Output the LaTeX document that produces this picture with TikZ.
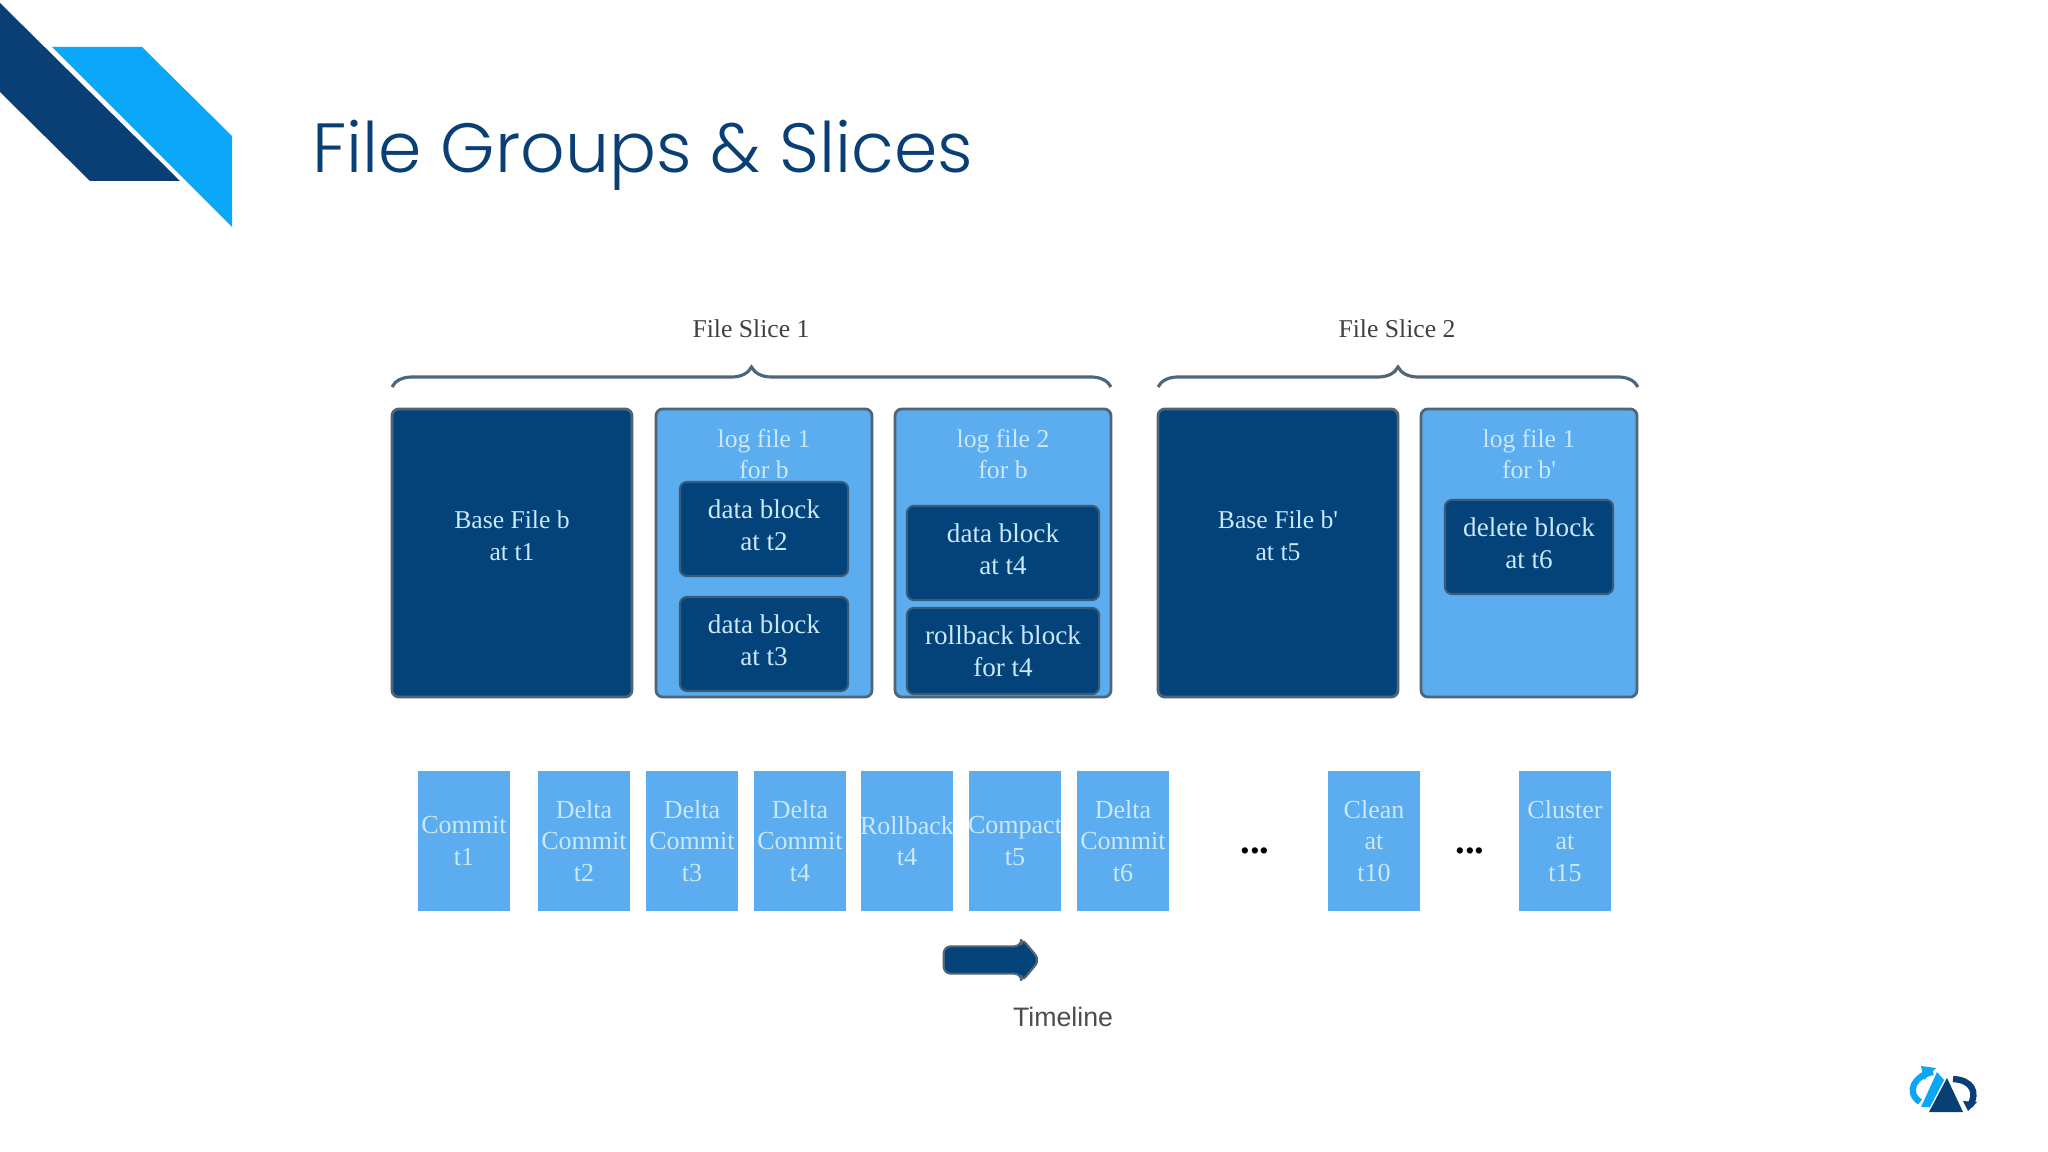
\documentclass[tikz,border=0pt]{standalone}
\usepackage{fontspec}
\setmainfont{Liberation Serif}
\newfontfamily\titlefont{Poppins Light}
\newfontfamily\labelfont{Liberation Sans}
\usetikzlibrary{shapes.arrows,decorations.pathreplacing}
\definecolor{navy}{HTML}{0A3F75}
\definecolor{sky}{HTML}{0CA6F8}
\definecolor{boxdark}{HTML}{03437A}
\definecolor{boxlight}{HTML}{5BADF0}
\definecolor{boxtext}{HTML}{C9E8FA}
\definecolor{boxline}{HTML}{4F6578}

\begin{document}
\begin{tikzpicture}[x=0.01cm, y=-0.01cm]
			\tikzstyle{every node}=[inner sep=1pt, align=center, font=\fontsize{7.3}{8.7}\selectfont]
			\tikzstyle{file}=[draw=boxline, line width=0.8pt, rounded corners=2pt, minimum height=2.88cm]
			\tikzstyle{basefile}=[file, fill=boxdark, minimum width=2.40cm]
			\tikzstyle{logfile}=[file, fill=boxlight, minimum width=2.16cm]
			\tikzstyle{filetext}=[text=boxtext]
			\tikzstyle{block}=[draw=boxline!70!boxdark, line width=0.6pt, fill=boxdark, rounded corners=2pt, text=boxtext, minimum height=0.94cm, text depth=0.08cm, font=\fontsize{7.7}{8.7}\selectfont]
			\tikzstyle{instant}=[fill=boxlight, text=boxtext, inner xsep=0pt, minimum width=0.92cm, minimum height=1.39cm, font=\fontsize{7.4}{8.7}\selectfont]
			\tikzstyle{slicebrace}=[draw=boxline, line width=0.9pt, decorate, decoration={brace, amplitude=0.2cm}]
			\tikzstyle{slicetext}=[text=black!75]
			\useasboundingbox (0, 0) rectangle (2048, 1152);
			% corner
			\fill [navy] (0, 3) -- (180, 181) -- (90, 181) -- (0, 92) -- cycle;
			\fill [sky] (52, 47) -- (142, 47) -- (232, 136) -- (232, 227) -- cycle;
			\node [anchor=west, text=navy, font=\titlefont\fontsize{19.8}{22}\selectfont] (title) at (308, 155) {File Groups \& Slices};
			% slices
			\coordinate (s1l) at (392, 387);
			\coordinate (s1r) at (1111, 387);
			\coordinate (s2l) at (1158, 387);
			\coordinate (s2r) at (1638, 387);
			\draw [slicebrace] (s1l) -- (s1r);
			\draw [slicebrace] (s2l) -- (s2r);
			\node [slicetext] (slice1) at (751, 329) {File Slice 1};
			\node [slicetext] (slice2) at (1397, 329) {File Slice 2};
			% files
			\node [basefile] (base1) at (512, 553) {};
			\node [logfile] (log1) at (764, 553) {};
			\node [logfile] (log2) at (1003, 553) {};
			\node [basefile] (base2) at (1278, 553) {};
			\node [logfile] (log3) at (1529, 553) {};
			\node [filetext] (base1text) at (512, 536) {Base File b\\[0.3pt]at t1};
			\node [filetext] (base2text) at (1278, 536) {Base File b\textquotesingle\\[0.3pt]at t5};
			\node [filetext] (log1text) at (764, 454) {log file 1\\[0.3pt]for b};
			\node [filetext] (log2text) at (1003, 454) {log file 2\\[0.3pt]for b};
			\node [filetext] (log3text) at (1529, 454) {log file 1\\[0.3pt]for b\textquotesingle};
			\node [block, minimum width=1.68cm] (t2) at (764, 529) {data block\\[0.3pt]at t2};
			\node [block, minimum width=1.68cm] (t3) at (764, 644) {data block\\[0.3pt]at t3};
			\node [block, minimum width=1.92cm] (t4) at (1003, 553) {data block\\[0.3pt]at t4};
			\node [block, minimum width=1.92cm, minimum height=0.86cm, text depth=0cm] (back) at (1003, 651) {rollback block\\[0.3pt]for t4};
			\node [block, minimum width=1.68cm] (t6) at (1529, 547) {delete block\\[0.3pt]at t6};
			% timeline
			\node [instant] (c1) at (464, 841) {Commit\\[0.3pt]t1};
			\node [instant] (c2) at (584, 841) {Delta\\[0.3pt]Commit\\[0.3pt]t2};
			\node [instant] (c3) at (692, 841) {Delta\\[0.3pt]Commit\\[0.3pt]t3};
			\node [instant] (c4) at (800, 841) {Delta\\[0.3pt]Commit\\[0.3pt]t4};
			\node [instant] (c5) at (907, 841) {\makebox[0pt]{Rollback}\\[0.3pt]t4};
			\node [instant] (c6) at (1015, 841) {\makebox[0pt]{Compact}\\[0.3pt]t5};
			\node [instant] (c7) at (1123, 841) {Delta\\[0.3pt]Commit\\[0.3pt]t6};
			\node [instant] (c8) at (1374, 841) {Clean\\[0.3pt]at\\[0.3pt]t10};
			\node [instant] (c9) at (1565, 841) {Cluster\\[0.3pt]at\\[0.3pt]t15};
			\node [font=\fontsize{11}{12}\selectfont\bfseries] (dots1) at (1255, 851) {...};
			\node [font=\fontsize{11}{12}\selectfont\bfseries] (dots2) at (1470, 851) {...};
			\node [single arrow, fill=boxdark, draw=boxline, line width=0.6pt, inner xsep=0pt, inner ysep=0.12cm, rounded corners=2pt, minimum width=0.44cm, minimum height=0.96cm, single arrow head extend=0.08cm, single arrow tip angle=100] (arrow) at (986, 960) {};
			\node [text=black!70, font=\labelfont\fontsize{7.6}{9}\selectfont] (timeline) at (1063, 1017) {Timeline};
			% logo
			\fill [sky] (1937, 1072) -- (1921, 1107) -- (1930, 1107) -- (1944, 1080) -- cycle;
			\fill [navy] (1947, 1078) -- (1963, 1112) -- (1929, 1112) -- cycle;
			\draw [sky, line width=1.8pt] (1933, 1072) .. controls (1915, 1075) and (1905, 1092) .. (1920, 1102);
			\fill [sky] (1921, 1066) -- (1936, 1068) -- (1924, 1080) -- cycle;
			\draw [navy, line width=1.8pt] (1953, 1079) .. controls (1972, 1080) and (1978, 1092) .. (1970, 1106);
			\fill [navy] (1963, 1101) -- (1977, 1102) -- (1968, 1111) -- cycle;
	\end{tikzpicture}
\end{document}
